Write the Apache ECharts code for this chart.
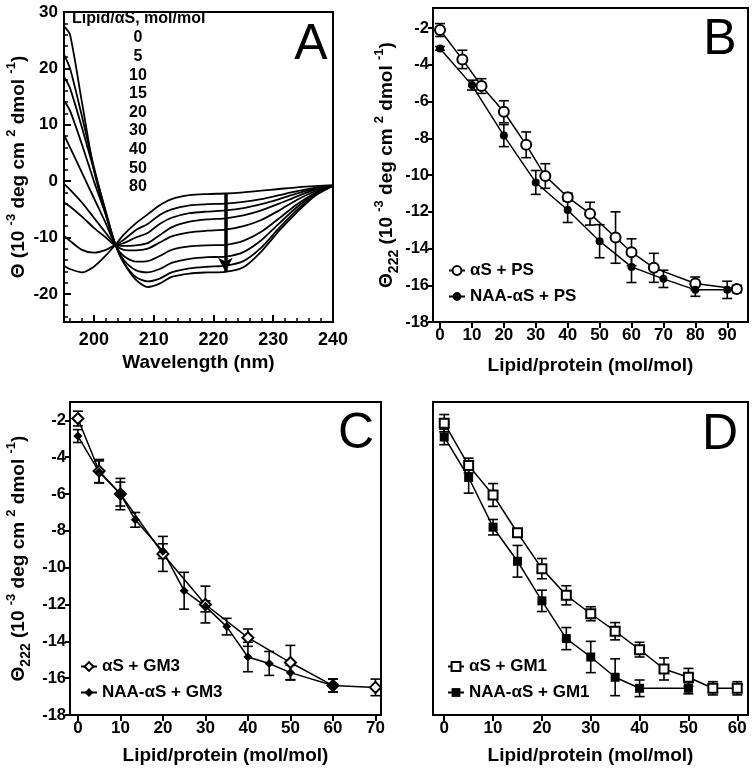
<!DOCTYPE html>
<html><head><meta charset="utf-8">
<script src="https://cdn.jsdelivr.net/npm/echarts@6/dist/echarts.min.js"></script>
<style>html,body{margin:0;padding:0;background:#fff}#c{width:752px;height:773px}</style>
</head><body><div id="c"></div>
<script>
// ---------- Panel A: CD spectra ----------
const A_WL = [195,196,198,200,202,203.6,205,207,209,211,213,216,219,222,225,228,231,234,237,240];
const A_LIPID = ['0','5','10','15','20','30','40','50','80'];
const A_L0  = [-15.0,-15.6,-16.2,-15.2,-13.2,-11.3,-9.5,-7.5,-5.9,-4.3,-3.2,-2.5,-2.3,-2.2,-2.0,-1.7,-1.4,-1.1,-0.9,-0.7];
const A_L5  = [-9.7,-10.6,-12.2,-12.7,-12.2,-11.3,-10.4,-8.7,-7.6,-6.0,-5.0,-4.3,-4.1,-4.0,-3.7,-3.2,-2.5,-1.8,-1.2,-0.8];
const A_L10 = [-3.8,-4.5,-6.3,-8.3,-10.0,-11.3,-11.0,-10.0,-9.2,-7.6,-6.5,-5.7,-5.4,-5.2,-4.8,-4.1,-3.2,-2.2,-1.4,-0.8];
const A_L15 = [-0.5,-1.5,-3.8,-6.5,-9.2,-11.3,-11.5,-11.4,-11.0,-9.6,-8.2,-7.2,-6.8,-6.6,-6.1,-5.2,-4.0,-2.7,-1.5,-0.8];
const A_L20 = [8.2,6.0,1.5,-3.0,-7.5,-11.3,-12.2,-12.3,-12.0,-10.9,-9.8,-9.1,-8.8,-8.6,-8.0,-6.9,-5.2,-3.3,-1.8,-0.8];
const A_L30 = [14.3,12.5,6.5,0.0,-6.0,-11.3,-13.3,-14.3,-14.2,-13.3,-12.2,-11.6,-11.4,-11.3,-10.6,-9.0,-6.6,-4.1,-2.1,-0.8];
const A_L40 = [18.5,16.5,9.5,2.0,-5.5,-11.3,-14.0,-15.8,-16.2,-15.6,-14.5,-13.8,-13.5,-13.4,-12.6,-10.5,-7.5,-4.6,-2.3,-0.8];
const A_L50 = [22.5,20.0,11.5,2.5,-5.5,-11.3,-14.5,-17.0,-17.8,-17.3,-16.2,-15.5,-15.2,-15.0,-14.2,-11.8,-8.3,-5.1,-2.5,-0.8];
const A_L80 = [27.5,26.0,14.0,2.0,-6.0,-11.3,-14.5,-17.5,-18.8,-18.2,-17.0,-16.4,-16.2,-16.1,-15.3,-12.5,-8.8,-5.5,-2.6,-0.8];
const A_CURVES = [A_L0,A_L5,A_L10,A_L15,A_L20,A_L30,A_L40,A_L50,A_L80];
const A_ARROW = [[222,-2.3],[222,-16.1]];
const A_X_TICKS = [200,210,220,230,240];
const A_X_MINOR = [196,198,202,204,206,208,212,214,216,218,222,224,226,228,232,234,236,238];
const A_Y_TICKS = [-20,-10,0,10,20,30];
const A_Y_MINOR = [-24,-22,-18,-16,-14,-12,-8,-6,-4,-2,2,4,6,8,12,14,16,18,22,24,26,28];

// ---------- Panel B: PS ----------
const B_AS_X = [0,7,13,20,27,33,40,47,55,60,67,80,93];
const B_AS_Y = [-2.1,-3.7,-5.15,-6.55,-8.35,-10.05,-11.2,-12.1,-13.4,-14.2,-15.05,-15.9,-16.2];
const B_AS_E = [0.35,0.5,0.4,0.6,0.7,0.67,0.22,0.62,1.4,0.73,0.79,0.35,0.2];
const B_NAA_X = [0,10,20,30,40,50,60,70,80,90];
const B_NAA_Y = [-3.1,-5.1,-7.85,-10.4,-11.9,-13.6,-15.0,-15.65,-16.25,-16.25];
const B_NAA_E = [0.1,0.27,0.6,0.65,0.68,0.9,0.85,0.47,0.35,0.47];
const B_X_TICKS = [0,10,20,30,40,50,60,70,80,90];
const Y_TICKS = [-18,-16,-14,-12,-10,-8,-6,-4,-2];

// ---------- Panel C: GM3 ----------
const C_AS_X = [0,5,10,20,30,40,50,60,70];
const C_AS_Y = [-1.9,-4.75,-6.0,-9.25,-12.0,-13.8,-15.15,-16.4,-16.5];
const C_AS_E = [0.4,0.63,0.85,0.95,1.0,0.47,0.93,0.36,0.45];
const C_NAA_X = [0,5,10,13.5,20,25,30,35,40,45,50,60];
const C_NAA_Y = [-2.85,-4.8,-6.0,-7.4,-9.1,-11.25,-12.1,-13.2,-14.85,-15.2,-15.7,-16.4];
const C_NAA_E = [0.35,0.6,0.65,0.4,0.4,1.0,0.3,0.45,0.8,0.65,0.4,0.35];
const C_X_TICKS = [0,10,20,30,40,50,60,70];

// ---------- Panel D: GM1 ----------
const D_AS_X = [0,5,10,15,20,25,30,35,40,45,50,55,60];
const D_AS_Y = [-2.15,-4.45,-6.05,-8.1,-10.05,-11.5,-12.5,-13.45,-14.45,-15.5,-15.95,-16.55,-16.55];
const D_AS_E = [0.47,0.4,0.62,0.2,0.55,0.52,0.38,0.47,0.4,0.6,0.48,0.36,0.36];
const D_NAA_X = [0,5,10,15,20,25,30,35,40,50];
const D_NAA_Y = [-2.9,-5.1,-7.8,-9.65,-11.8,-13.85,-14.85,-15.95,-16.55,-16.55];
const D_NAA_E = [0.42,0.85,0.42,0.86,0.58,0.6,0.85,1.0,0.45,0.3];
const D_X_TICKS = [0,10,20,30,40,50,60];

const FONT = "'Liberation Sans', Arial, sans-serif";
const K = '#000';

function yName(sub) {
  return (sub ? '{t|Θ}{sub|222}' : '{t|Θ}') +
    '{t| (10 }{sup|-3}{t| deg cm }{sup|2}{t| dmol }{sup|-1}{t|)}';
}
const nameRich = {
  t: {fontSize: 19, fontWeight: 'bold', fontFamily: FONT, color: K, lineHeight: 28},
  sup: {fontSize: 13, fontWeight: 'bold', fontFamily: FONT, color: K, verticalAlign: 'top'},
  sub: {fontSize: 14, fontWeight: 'bold', fontFamily: FONT, color: K, verticalAlign: 'bottom'}
};

function xAx(grid, min, max, ticks, opts) {
  return Object.assign({
    type: 'value', gridIndex: grid, min: min, max: max,
    axisLine: {show: true, onZero: false, lineStyle: {color: K, width: 2}},
    axisTick: {show: true, inside: false, length: 6, customValues: ticks, lineStyle: {color: K, width: 2}},
    axisLabel: {show: true, customValues: ticks, margin: 5, color: K, fontSize: 17, fontWeight: 'bold', fontFamily: FONT},
    splitLine: {show: false},
    name: 'Lipid/protein (mol/mol)', nameLocation: 'middle', nameGap: 33,
    nameTextStyle: {fontSize: 19, fontWeight: 'bold', fontFamily: FONT, color: K}
  }, opts || {});
}
function yAx(grid, min, max, ticks, opts) {
  return Object.assign({
    type: 'value', gridIndex: grid, min: min, max: max,
    axisLine: {show: true, onZero: false, lineStyle: {color: K, width: 2}},
    axisTick: {show: true, inside: false, length: 5, customValues: ticks, lineStyle: {color: K, width: 2}},
    axisLabel: {show: true, customValues: ticks, margin: 4, color: K, fontSize: 16.5, fontWeight: 'bold', fontFamily: FONT},
    splitLine: {show: false}
  }, opts || {});
}

function errSeries(xi, xs, ys, es, cap) {
  return {
    type: 'custom', xAxisIndex: xi, yAxisIndex: xi, silent: true, z: 1,
    encode: {x: 0, y: 1},
    data: xs.map((x, i) => [x, ys[i], es[i]]),
    renderItem: function (params, api) {
      const x = api.value(0), y = api.value(1), e = api.value(2);
      const p1 = api.coord([x, y + e]), p2 = api.coord([x, y - e]);
      const st = {stroke: K, lineWidth: 1.6};
      return {type: 'group', children: [
        {type: 'line', shape: {x1: p1[0], y1: p1[1], x2: p2[0], y2: p2[1]}, style: st},
        {type: 'line', shape: {x1: p1[0] - cap, y1: p1[1], x2: p1[0] + cap, y2: p1[1]}, style: st},
        {type: 'line', shape: {x1: p2[0] - cap, y1: p2[1], x2: p2[0] + cap, y2: p2[1]}, style: st}
      ]};
    }
  };
}
function lineSeries(name, xi, xs, ys, symbol, size) {
  return {
    name: name, type: 'line', xAxisIndex: xi, yAxisIndex: xi, z: 3,
    data: xs.map((x, i) => [x, ys[i]]),
    symbol: symbol, symbolSize: size, showSymbol: true,
    lineStyle: {color: K, width: 1.5},
    itemStyle: {color: K, borderColor: K, borderWidth: symbol.indexOf('empty') === 0 ? 2 : 0}
  };
}

const series = [];
A_CURVES.forEach((c, i) => {
  const s = {
    name: 'L' + A_LIPID[i], type: 'line', xAxisIndex: 0, yAxisIndex: 0, z: 2,
    data: A_WL.map((w, j) => [w, c[j]]), showSymbol: false, smooth: 0.25,
    lineStyle: {color: K, width: 1.8}
  };
  if (i === 0) {
    s.markLine = {
      silent: true, symbol: ['none', 'arrow'], symbolSize: [11, 14],
      label: {show: false},
      lineStyle: {color: K, width: 3.5, type: 'solid'},
      data: [[{coord: A_ARROW[0]}, {coord: A_ARROW[1]}]]
    };
  }
  series.push(s);
});

series.push(errSeries(2, B_AS_X, B_AS_Y, B_AS_E, 5));
series.push(errSeries(2, B_NAA_X, B_NAA_Y, B_NAA_E, 5));
series.push(lineSeries('αS + PS', 2, B_AS_X, B_AS_Y, 'emptyCircle', 10));
series.push(lineSeries('NAA-αS + PS', 2, B_NAA_X, B_NAA_Y, 'circle', 8));

series.push(errSeries(3, C_AS_X, C_AS_Y, C_AS_E, 5));
series.push(errSeries(3, C_NAA_X, C_NAA_Y, C_NAA_E, 5));
series.push(lineSeries('αS + GM3', 3, C_AS_X, C_AS_Y, 'emptyDiamond', 11));
series.push(lineSeries('NAA-αS + GM3', 3, C_NAA_X, C_NAA_Y, 'diamond', 9));

series.push(errSeries(4, D_AS_X, D_AS_Y, D_AS_E, 5));
series.push(errSeries(4, D_NAA_X, D_NAA_Y, D_NAA_E, 5));
series.push(lineSeries('αS + GM1', 4, D_AS_X, D_AS_Y, 'emptyRect', 9));
series.push(lineSeries('NAA-αS + GM1', 4, D_NAA_X, D_NAA_Y, 'rect', 9));

const gridStyle = {show: true, borderColor: K, borderWidth: 2, backgroundColor: 'transparent'};
const legendBase = {
  orient: 'vertical', itemWidth: 16, itemHeight: 11, itemGap: 9,
  textStyle: {fontSize: 17, fontWeight: 'bold', fontFamily: FONT, color: K}
};

const A_LEG_TOP = 38;
const graphics = [
  {type: 'text', left: 72, top: 11, style: {text: 'Lipid/αS, mol/mol', fontSize: 16, fontWeight: 'bold', fontFamily: FONT, fill: K}}
];
A_LIPID.forEach((l, i) => {
  graphics.push({type: 'text', x: 138, y: A_LEG_TOP + i * 18.6,
    style: {text: l, fontSize: 16, fontWeight: 'bold', fontFamily: FONT, fill: K, textAlign: 'center', textVerticalAlign: 'middle'}});
});
[['A', 311, 45], ['B', 720, 40], ['C', 356, 434], ['D', 720, 435]].forEach(p => {
  graphics.push({type: 'text', x: p[1], y: p[2],
    style: {text: p[0], fontSize: 50, fontFamily: FONT, fill: K, textAlign: 'center', textVerticalAlign: 'middle'}});
});

const minorAxisLine = {show: false, onZero: false};
const option = {
  animation: false,
  backgroundColor: '#fff',
  grid: [
    Object.assign({left: 64, top: 12, width: 269, height: 310}, gridStyle),
    Object.assign({left: 433, top: 8, width: 315, height: 314}, gridStyle),
    Object.assign({left: 70, top: 402, width: 311, height: 313}, gridStyle),
    Object.assign({left: 433, top: 402, width: 315, height: 313}, gridStyle)
  ],
  xAxis: [
    xAx(0, 195, 240, A_X_TICKS, {
      axisTick: {show: true, inside: true, length: 7, customValues: A_X_TICKS, lineStyle: {color: K, width: 2}},
      axisLabel: {show: true, customValues: A_X_TICKS, margin: 9, color: K, fontSize: 18, fontWeight: 'bold', fontFamily: FONT},
      name: 'Wavelength (nm)', nameGap: 31
    }),
    {type: 'value', gridIndex: 0, min: 195, max: 240, position: 'bottom', axisLine: minorAxisLine, axisLabel: {show: false}, splitLine: {show: false},
     axisTick: {show: true, inside: true, length: 4, customValues: A_X_MINOR, lineStyle: {color: K, width: 1.5}}},
    xAx(1, -2.2, 96.5, B_X_TICKS, {nameGap: 34}),
    xAx(2, -1.85, 71.3, C_X_TICKS, {nameGap: 31}),
    xAx(3, -2.3, 62.2, D_X_TICKS, {nameGap: 31})
  ],
  yAxis: [
    yAx(0, -25, 30, A_Y_TICKS, {
      axisTick: {show: true, inside: true, length: 7, customValues: A_Y_TICKS, lineStyle: {color: K, width: 2}},
      axisLabel: {show: true, customValues: A_Y_TICKS, margin: 6, color: K, fontSize: 17, fontWeight: 'bold', fontFamily: FONT},
      name: yName(false), nameLocation: 'middle', nameGap: 31, nameRotate: 90,
      nameTextStyle: {rich: nameRich}
    }),
    {type: 'value', gridIndex: 0, min: -25, max: 30, position: 'left', axisLine: minorAxisLine, axisLabel: {show: false}, splitLine: {show: false},
     axisTick: {show: true, inside: true, length: 4, customValues: A_Y_MINOR, lineStyle: {color: K, width: 1.5}}},
    yAx(1, -18, -0.9, Y_TICKS, {name: yName(true), nameLocation: 'middle', nameGap: 30, nameRotate: 90, nameTextStyle: {rich: nameRich}}),
    yAx(2, -18, -1, Y_TICKS, {name: yName(true), nameLocation: 'middle', nameGap: 37, nameRotate: 90, nameTextStyle: {rich: nameRich}}),
    yAx(3, -18, -1, Y_TICKS, {axisTick: {show: false}, axisLabel: {show: false}})
  ],
  legend: [
    Object.assign({data: ['αS + PS', 'NAA-αS + PS'], left: 443, top: 257}, legendBase),
    Object.assign({data: ['αS + GM3', 'NAA-αS + GM3'], left: 75, top: 653}, legendBase),
    Object.assign({data: ['αS + GM1', 'NAA-αS + GM1'], left: 442, top: 653}, legendBase)
  ],
  graphic: graphics,
  series: series
};

const chart = echarts.init(document.getElementById('c'), null, {renderer: 'canvas'});
chart.setOption(option);
</script>
</body></html>
